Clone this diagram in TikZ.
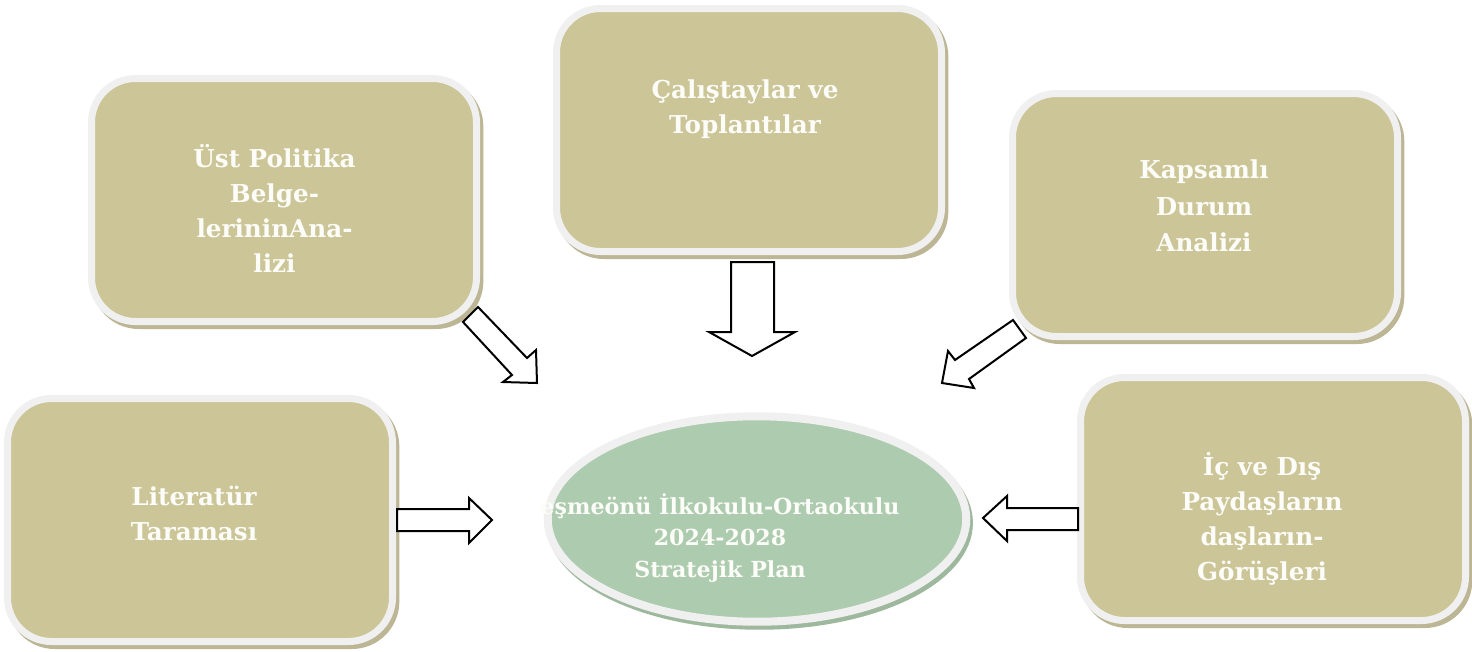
\documentclass[tikz,border=0pt]{standalone}
\usepackage{fontspec}
\setmainfont{DejaVu Serif}
\usetikzlibrary{shapes.geometric}
\definecolor{boxtan}{RGB}{204,197,151}
\definecolor{bordergray}{RGB}{240,240,240}
\definecolor{boxshadow}{RGB}{188,182,148}
\definecolor{plangreen}{RGB}{173,203,174}
\definecolor{planshadow}{RGB}{158,184,158}
\definecolor{textwhite}{RGB}{252,252,248}
\begin{document}
\begin{tikzpicture}[x=0.75pt,y=-0.75pt,
  box/.style={draw=bordergray, line width=5.25pt, fill=boxtan, rounded corners=33pt,
    minimum width=288.75pt, minimum height=182.25pt, inner sep=0pt, outer sep=0pt,
    preaction={draw=boxshadow, fill=boxshadow, line width=5.25pt,
      transform canvas={shift={(2.5pt,-3pt)}}}},
  plan/.style={ellipse, draw=bordergray, line width=6pt, fill=plangreen,
    minimum width=313.9pt, minimum height=154.1pt, inner sep=0pt, outer sep=0pt,
    preaction={draw=planshadow, fill=planshadow, line width=6pt,
      transform canvas={shift={(2pt,-3pt)}}}},
  boxtext/.style={text=textwhite, font=\fontsize{18.5}{26.25}\selectfont\bfseries, align=center, inner sep=0pt},
  plantext/.style={text=textwhite, font=\fontsize{16.6}{23.6}\selectfont\bfseries, align=center, inner sep=0pt},
  blockarrow/.style={draw=black, fill=white, line width=1.5pt, line join=miter}
]
\fill[white] (0,0) rectangle (1472,651);
\useasboundingbox (0,0) rectangle (1472,651);

% boxes
\node[box] (b1) at (284,200) {};
\node[box] (b2) at (749,130) {};
\node[box] (b3) at (1205,215) {};
\node[box] (b4) at (200,520) {};
\node[box] (b5) at (1273,499) {};
\node[plan] (p) at (757,519) {};

% texts
\node[boxtext] (t1) at (274.5,208) {Üst Politika\\Belge-\\lerininAna-\\lizi};
\node[boxtext] (t2) at (745,109) {Çalıştaylar ve\\Toplantılar};
\node[boxtext, font=\fontsize{18.5}{27.5}\selectfont\bfseries] (t3) at (1204,206) {Kapsamlı\\Durum\\Analizi};
\node[boxtext] (t4) at (194,513) {Literatür\\Taraması};
\node[boxtext] (t5) at (1262,519) {İç ve Dış\\Paydaşların\\daşların-\\Görüşleri};
\node[plantext] (tp) at (720,538) {eşmeönü İlkokulu-Ortaokulu\\2024-2028\\Stratejik Plan};

% block arrows
\draw[blockarrow] (463,322) -- (512,375) -- (503,382) -- (537,383) -- (536,350) -- (527,358) -- (478,307) -- cycle;
\draw[blockarrow] (731,262) -- (731,332) -- (709,332) -- (752,356) -- (795,332) -- (774,332) -- (774,262) -- cycle;
\draw[blockarrow] (1013,320) -- (955,360) -- (948,351) -- (942,383) -- (974,388) -- (969,379) -- (1026,338) -- cycle;
\draw[blockarrow] (397,509) -- (469,509) -- (469,498) -- (492,520) -- (469,543) -- (469,531) -- (397,531) -- cycle;
\draw[blockarrow] (1078,508) -- (1007,508) -- (1007,496) -- (983,518) -- (1007,541) -- (1007,530) -- (1078,530) -- cycle;
\end{tikzpicture}
\end{document}
